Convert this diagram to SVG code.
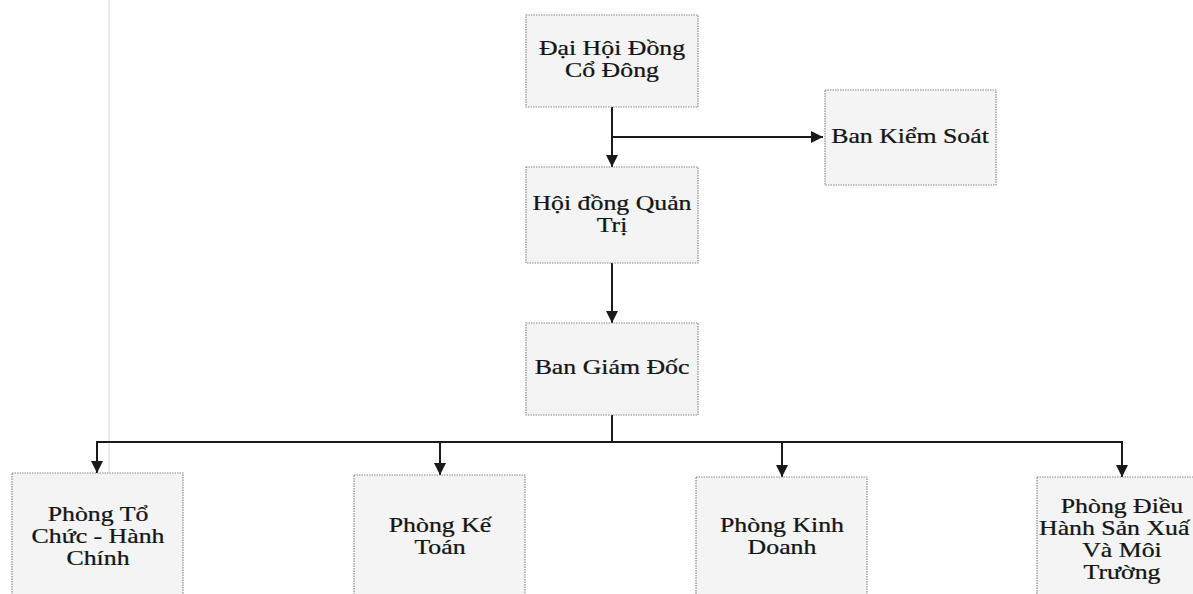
<svg xmlns="http://www.w3.org/2000/svg" width="1193" height="594" viewBox="0 0 1193 594">
<defs>
<marker id="arr" viewBox="0 0 10 10" refX="10" refY="5" markerWidth="12" markerHeight="12" markerUnits="userSpaceOnUse" orient="auto">
<path d="M0,0 L10,5 L0,10 z" fill="#1a1a1a"/>
</marker>
<style>
.box{fill:#f4f4f4;stroke:#8c8c8c;stroke-width:1.2;stroke-dasharray:1.5,1}
.t{font-family:"Liberation Serif","Times New Roman",serif;font-size:20px;fill:#151515;stroke:#151515;stroke-width:0.25;text-anchor:middle}
.c{fill:none;stroke:#1a1a1a;stroke-width:2}
.fold{stroke:#d8d8d8;stroke-width:1}
</style>
</defs>
<rect width="1193" height="594" fill="#ffffff"/>
<line class="fold" x1="109" y1="0" x2="109" y2="594"/>
<g id="connectors">
<path class="c" d="M612,107 V167" marker-end="url(#arr)"/>
<path class="c" d="M612,137 H823" marker-end="url(#arr)"/>
<path class="c" d="M612,263 V323" marker-end="url(#arr)"/>
<path class="c" d="M612,415 V442 H97 V473" marker-end="url(#arr)"/>
<path class="c" d="M440,442 V475" marker-end="url(#arr)"/>
<path class="c" d="M612,442 H1122 V477" marker-end="url(#arr)"/>
<path class="c" d="M782,442 V477" marker-end="url(#arr)"/>
</g>
<g id="dai-hoi-dong-co-dong">
<rect class="box" x="526" y="15" width="172" height="92"/>
<text class="t" transform="translate(612,55) scale(1.29,1)">Đại Hội Đồng</text>
<text class="t" transform="translate(612,77) scale(1.29,1)">Cổ Đông</text>
</g>
<g id="ban-kiem-soat">
<rect class="box" x="825" y="90" width="171" height="95"/>
<text class="t" transform="translate(910,143) scale(1.29,1)">Ban Kiểm Soát</text>
</g>
<g id="hoi-dong-quan-tri">
<rect class="box" x="526" y="167" width="172" height="96"/>
<text class="t" transform="translate(612,210) scale(1.29,1)">Hội đồng Quản</text>
<text class="t" transform="translate(612,232) scale(1.29,1)">Trị</text>
</g>
<g id="ban-giam-doc">
<rect class="box" x="526" y="323" width="172" height="92"/>
<text class="t" transform="translate(612,374) scale(1.29,1)">Ban Giám Đốc</text>
</g>
<g id="phong-to-chuc">
<rect class="box" x="12" y="473" width="171" height="130"/>
<text class="t" transform="translate(98,521) scale(1.29,1)">Phòng Tổ</text>
<text class="t" transform="translate(98,543) scale(1.29,1)">Chức - Hành</text>
<text class="t" transform="translate(98,565) scale(1.29,1)">Chính</text>
</g>
<g id="phong-ke-toan">
<rect class="box" x="354" y="475" width="171" height="130"/>
<text class="t" transform="translate(440,532) scale(1.29,1)">Phòng Kế</text>
<text class="t" transform="translate(440,554) scale(1.29,1)">Toán</text>
</g>
<g id="phong-kinh-doanh">
<rect class="box" x="696" y="477" width="171" height="130"/>
<text class="t" transform="translate(782,532) scale(1.29,1)">Phòng Kinh</text>
<text class="t" transform="translate(782,554) scale(1.29,1)">Doanh</text>
</g>
<g id="phong-dieu-hanh">
<rect class="box" x="1037" y="477" width="171" height="130"/>
<text class="t" transform="translate(1122,513) scale(1.29,1)">Phòng Điều</text>
<text class="t" transform="translate(1039,535) scale(1.29,1)" style="text-anchor:start">Hành Sản Xuấ</text>
<text class="t" transform="translate(1122,557) scale(1.29,1)">Và Môi</text>
<text class="t" transform="translate(1122,579) scale(1.29,1)">Trường</text>
</g>
</svg>
